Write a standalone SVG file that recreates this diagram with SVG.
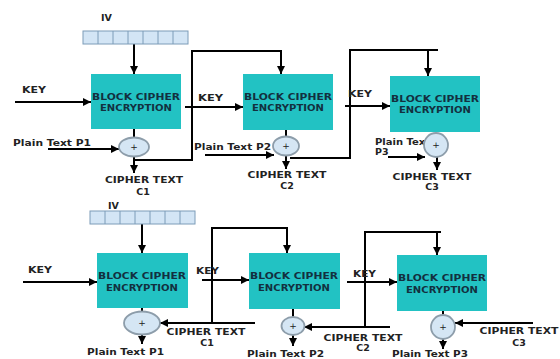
<svg xmlns="http://www.w3.org/2000/svg" width="560" height="359" viewBox="0 0 560 359">
<defs>
<marker id="ah" viewBox="0 0 10 10" refX="10" refY="5" markerWidth="10" markerHeight="8" markerUnits="userSpaceOnUse" orient="auto"><path d="M0,0 L10,5 L0,10 z" fill="#000"/></marker>
<style>
.blk{fill:#22c2c3}
.bt{font-family:"DejaVu Sans",Verdana,sans-serif;font-weight:bold;font-size:9.5px;fill:#13303f;text-anchor:middle}
.lb{font-family:"DejaVu Sans",Verdana,sans-serif;font-weight:bold;font-size:9.5px;fill:#222}
.lbm{font-family:"DejaVu Sans",Verdana,sans-serif;font-weight:bold;font-size:9.5px;fill:#222;text-anchor:middle}
.ivb{fill:#d3e5f5;stroke:#7d9cb8;stroke-width:1}
.xo{fill:#d5e6f4;stroke:#8d9daa;stroke-width:1.8}
.pl{font-family:"DejaVu Sans",sans-serif;font-size:9px;fill:#222;text-anchor:middle}
.ln{stroke:#000;stroke-width:2;fill:none}
.ar{stroke:#000;stroke-width:2;fill:none;marker-end:url(#ah)}
</style>
</defs>
<rect width="560" height="359" fill="#fff"/>

<g id="connectors">
<!-- top row -->
<line class="ar" x1="134" y1="44" x2="134" y2="74"/>
<line class="ar" x1="15" y1="102" x2="91" y2="102"/>
<line class="ln" x1="134" y1="129" x2="134" y2="138"/>
<line class="ar" x1="48" y1="149" x2="119" y2="149"/>
<line class="ar" x1="134" y1="157" x2="134" y2="173"/>
<polyline class="ln" points="134,160 192,160 192,51 282,51"/>
<line class="ar" x1="281" y1="51" x2="281" y2="74"/>
<line class="ar" x1="185" y1="107" x2="243" y2="107"/>
<line class="ln" x1="286" y1="130" x2="286" y2="137"/>
<line class="ar" x1="205" y1="155" x2="274" y2="155"/>
<line class="ar" x1="286" y1="155" x2="286" y2="169"/>
<polyline class="ln" points="290,158 350,158 350,50 438,50"/>
<line class="ar" x1="428" y1="50" x2="428" y2="76"/>
<line class="ar" x1="345" y1="106" x2="390" y2="106"/>
<line class="ar" x1="388" y1="157" x2="425" y2="157"/>
<line class="ar" x1="437" y1="157" x2="437" y2="170"/>
<!-- bottom row -->
<line class="ar" x1="142" y1="224" x2="142" y2="253"/>
<line class="ar" x1="23" y1="282" x2="97" y2="282"/>
<line class="ln" x1="142" y1="308" x2="142" y2="312"/>
<line class="ar" x1="142" y1="335" x2="142" y2="344"/>
<line class="ar" x1="255" y1="323" x2="160" y2="323"/>
<polyline class="ln" points="212,323 212,228 288,228"/>
<line class="ar" x1="287" y1="228" x2="287" y2="253"/>
<line class="ar" x1="202" y1="280" x2="249" y2="280"/>
<line class="ln" x1="293" y1="309" x2="293" y2="317"/>
<line class="ar" x1="293" y1="335" x2="293" y2="346"/>
<line class="ar" x1="390" y1="327" x2="304" y2="327"/>
<polyline class="ln" points="365,327 365,232 441,232"/>
<line class="ar" x1="437" y1="232" x2="437" y2="255"/>
<line class="ar" x1="347" y1="282" x2="397" y2="282"/>
<line class="ln" x1="443" y1="310" x2="443" y2="316"/>
<line class="ar" x1="443" y1="338" x2="443" y2="349"/>
<line class="ar" x1="533" y1="323" x2="455" y2="323"/>
</g>

<g id="iv1">
<text class="lb" x="101" y="21">IV</text>
<rect class="ivb" x="83" y="31" width="105" height="13"/>
<path d="M98,31V44M113,31V44M128,31V44M143,31V44M158,31V44M173,31V44" stroke="#7d9cb8" stroke-width="1"/>
</g>
<g id="key1"><text class="lb" x="22" y="93" textLength="24" lengthAdjust="spacingAndGlyphs">KEY</text></g>
<g id="enc1">
<rect class="blk" x="91" y="74" width="90" height="55"/>
<text class="bt" x="136" y="100" textLength="88" lengthAdjust="spacingAndGlyphs">BLOCK CIPHER</text>
<text class="bt" x="136" y="111" textLength="72" lengthAdjust="spacingAndGlyphs">ENCRYPTION</text>
</g>
<g id="p1"><text class="lb" x="13" y="146" textLength="78" lengthAdjust="spacingAndGlyphs">Plain Text  P1</text></g>
<g id="xor1"><ellipse class="xo" cx="134" cy="147" rx="15" ry="9.5"/><text class="pl" x="134" y="150">+</text></g>
<g id="c1"><text class="lbm" x="144" y="183" textLength="78" lengthAdjust="spacingAndGlyphs">CIPHER TEXT</text><text class="lbm" x="143" y="195">C1</text></g>

<g id="key2"><text class="lb" x="198" y="101" textLength="25" lengthAdjust="spacingAndGlyphs">KEY</text></g>
<g id="enc2">
<rect class="blk" x="243" y="74" width="90" height="56"/>
<text class="bt" x="288" y="100" textLength="88" lengthAdjust="spacingAndGlyphs">BLOCK CIPHER</text>
<text class="bt" x="288" y="111" textLength="72" lengthAdjust="spacingAndGlyphs">ENCRYPTION</text>
</g>
<g id="p2"><text class="lb" x="194" y="150" textLength="77" lengthAdjust="spacingAndGlyphs">Plain Text  P2</text></g>
<g id="xor2"><ellipse class="xo" cx="286" cy="146" rx="13" ry="9.5"/><text class="pl" x="286" y="149">+</text></g>
<g id="c2"><text class="lbm" x="287" y="178" textLength="79" lengthAdjust="spacingAndGlyphs">CIPHER TEXT</text><text class="lbm" x="287" y="189">C2</text></g>

<g id="key3"><text class="lb" x="348" y="97" textLength="24" lengthAdjust="spacingAndGlyphs">KEY</text></g>
<g id="enc3">
<rect class="blk" x="390" y="76" width="90" height="56"/>
<text class="bt" x="435" y="102" textLength="88" lengthAdjust="spacingAndGlyphs">BLOCK CIPHER</text>
<text class="bt" x="435" y="113" textLength="72" lengthAdjust="spacingAndGlyphs">ENCRYPTION</text>
</g>
<g id="p3"><text class="lb" x="375" y="145" textLength="55" lengthAdjust="spacingAndGlyphs">Plain Text</text><text class="lb" x="375" y="155">P3</text></g>
<g id="xor3"><circle class="xo" cx="436" cy="145" r="12"/><text class="pl" x="436" y="148">+</text></g>
<g id="c3"><text class="lbm" x="432" y="180" textLength="79" lengthAdjust="spacingAndGlyphs">CIPHER TEXT</text><text class="lbm" x="432" y="190">C3</text></g>

<g id="iv2">
<text class="lb" x="108" y="209">IV</text>
<rect class="ivb" x="90" y="211" width="105" height="13"/>
<path d="M105,211V224M120,211V224M135,211V224M150,211V224M165,211V224M180,211V224" stroke="#7d9cb8" stroke-width="1"/>
</g>
<g id="key4"><text class="lb" x="28" y="273" textLength="24" lengthAdjust="spacingAndGlyphs">KEY</text></g>
<g id="dec1">
<rect class="blk" x="97" y="253" width="91" height="55"/>
<text class="bt" x="142" y="279" textLength="88" lengthAdjust="spacingAndGlyphs">BLOCK CIPHER</text>
<text class="bt" x="142" y="291" textLength="72" lengthAdjust="spacingAndGlyphs">ENCRYPTION</text>
</g>
<g id="xor4"><ellipse class="xo" cx="142" cy="323" rx="18" ry="11.5"/><text class="pl" x="142" y="326">+</text></g>
<g id="q1"><text class="lb" x="87" y="355" textLength="77" lengthAdjust="spacingAndGlyphs">Plain Text  P1</text></g>
<g id="d1"><text class="lbm" x="206" y="335" textLength="79" lengthAdjust="spacingAndGlyphs">CIPHER TEXT</text><text class="lbm" x="207" y="346">C1</text></g>

<g id="key5"><text class="lb" x="196" y="274" textLength="23" lengthAdjust="spacingAndGlyphs">KEY</text></g>
<g id="dec2">
<rect class="blk" x="249" y="253" width="91" height="56"/>
<text class="bt" x="294" y="279" textLength="88" lengthAdjust="spacingAndGlyphs">BLOCK CIPHER</text>
<text class="bt" x="294" y="291" textLength="72" lengthAdjust="spacingAndGlyphs">ENCRYPTION</text>
</g>
<g id="xor5"><ellipse class="xo" cx="293" cy="326" rx="11.5" ry="9"/><text class="pl" x="293" y="329">+</text></g>
<g id="q2"><text class="lb" x="247" y="357" textLength="77" lengthAdjust="spacingAndGlyphs">Plain Text  P2</text></g>
<g id="d2"><text class="lbm" x="363" y="341" textLength="79" lengthAdjust="spacingAndGlyphs">CIPHER TEXT</text><text class="lbm" x="363" y="351">C2</text></g>

<g id="key6"><text class="lb" x="353" y="277" textLength="23" lengthAdjust="spacingAndGlyphs">KEY</text></g>
<g id="dec3">
<rect class="blk" x="397" y="255" width="90" height="56"/>
<text class="bt" x="442" y="281" textLength="88" lengthAdjust="spacingAndGlyphs">BLOCK CIPHER</text>
<text class="bt" x="442" y="293" textLength="72" lengthAdjust="spacingAndGlyphs">ENCRYPTION</text>
</g>
<g id="xor6"><circle class="xo" cx="443" cy="327" r="12"/><text class="pl" x="443" y="330">+</text></g>
<g id="q3"><text class="lb" x="392" y="357" textLength="76" lengthAdjust="spacingAndGlyphs">Plain Text  P3</text></g>
<g id="d3"><text class="lbm" x="519" y="334" textLength="79" lengthAdjust="spacingAndGlyphs">CIPHER TEXT</text><text class="lbm" x="519" y="346">C3</text></g>
</svg>
